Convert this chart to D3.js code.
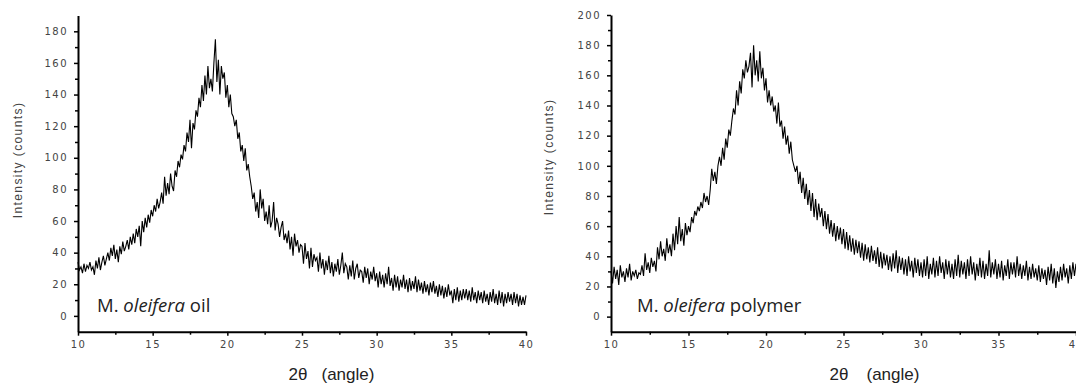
<!DOCTYPE html>
<html>
<head>
<meta charset="utf-8">
<script src="https://cdn.jsdelivr.net/npm/d3@7"></script>
<style>
	body { margin: 0; background: #fff; }
	svg { display: block; }
	.tick text { font-family: "DejaVu Sans", sans-serif; font-size: 10px; fill: #444; letter-spacing: 1.5px; }
	.domain { stroke: #000; stroke-width: 2; }
	.tick line { stroke: #000; stroke-width: 1.5; }
	.y-title { font-family: "Liberation Sans", Arial, sans-serif; font-size: 12px; fill: #444; letter-spacing: 1.4px; }
	.x-title { font-family: "Liberation Sans", Arial, sans-serif; font-size: 17px; fill: #222; }
	.sample { font-family: "Open Sans", sans-serif; font-size: 18.5px; fill: #222; }
</style>
</head>
<body>
<div id="chart"></div>
<script>
// scan grid: 2theta from 10 to 40 deg in 0.1 deg steps
const scanStart = 10;
const scanStep = 0.1;

// M. oleifera oil, counts (one row per degree)
const oilCounts = [
	34, 29, 31, 27, 33, 28, 32, 30, 34, 29,
	31, 26, 35, 30, 37, 29, 34, 38, 32, 36,
	40, 35, 43, 38, 45, 36, 42, 34, 44, 39,
	47, 41, 44, 48, 42, 50, 45, 52, 46, 55,
	50, 57, 44, 60, 53, 62, 56, 64, 59, 67,
	63, 70, 66, 74, 68, 72, 78, 71, 88, 76,
	84, 77, 90, 82, 79, 92, 88, 98, 94, 102,
	99, 108, 104, 116, 110, 124, 106, 122, 118, 130,
	126, 138, 132, 146, 136, 152, 140, 158, 144, 150,
	142, 160, 175, 148, 162, 140, 158, 150, 154, 138,
	146, 132, 140, 128, 126, 120, 124, 112, 116, 104,
	108, 98, 106, 92, 96, 88, 82, 74, 78, 66,
	72, 62, 80, 68, 74, 60, 66, 58, 70, 56,
	60, 72, 54, 62, 58, 50, 56, 60, 48, 52,
	46, 54, 42, 50, 38, 52, 44, 48, 40, 45,
	44, 33, 46, 36, 41, 30, 43, 31, 39, 35,
	37, 28, 40, 30, 36, 26, 35, 29, 38, 27,
	34, 25, 33, 28, 36, 26, 32, 40, 27, 33,
	31, 23, 32, 25, 35, 23, 30, 33, 24, 29,
	28, 21, 31, 24, 30, 20, 28, 23, 31, 22,
	27, 18, 28, 20, 26, 18, 27, 20, 31, 19,
	24, 16, 26, 18, 25, 16, 23, 18, 26, 17,
	23, 15, 24, 16, 22, 17, 25, 15, 23, 16,
	21, 14, 22, 15, 20, 13, 21, 15, 22, 14,
	19, 12, 20, 13, 19, 11, 18, 12, 20, 13,
	16, 8, 17, 10, 18, 9, 16, 10, 17, 11,
	17, 10, 16, 9, 18, 10, 15, 8, 16, 10,
	15, 8, 16, 9, 14, 7, 15, 9, 17, 8,
	14, 7, 16, 8, 15, 6, 14, 8, 15, 9,
	14, 7, 15, 8, 14, 6, 13, 7, 12, 7,
	13
];

// M. oleifera polymer, counts
const polymerCounts = [
	30, 22, 33, 25, 31, 21, 34, 26, 30, 23,
	32, 26, 35, 24, 30, 27, 31, 25, 29, 28,
	34, 27, 42, 31, 36, 29, 39, 33, 37, 30,
	46, 38, 50, 40, 45, 37, 52, 42, 48, 40,
	55, 44, 60, 48, 66, 50, 58, 47, 62, 54,
	60, 56, 66, 62, 70, 67, 73, 70, 76, 72,
	82, 76, 80, 74, 84, 98, 90, 96, 88, 100,
	106, 100, 112, 104, 118, 112, 124, 120, 130, 138,
	134, 150, 140, 156, 148, 164, 158, 170, 162, 166,
	175, 152, 180, 160, 170, 156, 176, 158, 165, 150,
	158, 142, 150, 140, 146, 136, 140, 128, 142, 126,
	130, 118, 126, 114, 120, 108, 116, 104, 100, 96,
	100, 88, 96, 82, 92, 78, 88, 74, 84, 70,
	82, 66, 78, 64, 75, 66, 72, 60, 70, 58,
	68, 55, 64, 53, 62, 50, 60, 51, 59, 48,
	58, 45, 56, 44, 54, 43, 52, 41, 51, 42,
	50, 39, 49, 37, 48, 38, 46, 36, 47, 37,
	44, 35, 46, 33, 43, 32, 42, 34, 41, 31,
	40, 30, 42, 32, 44, 29, 40, 31, 39, 28,
	38, 27, 40, 30, 37, 26, 39, 29, 38, 27,
	36, 26, 38, 27, 40, 25, 35, 28, 39, 26,
	37, 27, 40, 29, 36, 25, 38, 28, 37, 26,
	35, 25, 38, 27, 41, 26, 37, 28, 36, 25,
	38, 27, 40, 28, 36, 24, 35, 27, 39, 26,
	37, 25, 35, 27, 44, 26, 36, 28, 38, 25,
	35, 26, 37, 24, 34, 27, 38, 25, 36, 28,
	36, 26, 40, 27, 35, 25, 34, 27, 37, 24,
	33, 25, 35, 26, 32, 24, 34, 23, 32, 25,
	31, 21, 33, 24, 35, 22, 32, 19, 30, 23,
	33, 24, 35, 26, 32, 22, 34, 25, 36, 27,
	35
];

const xTicks = [10, 15, 20, 25, 30, 35, 40];
const xMinorTicks = [12.5, 17.5, 22.5, 27.5, 32.5, 37.5];
const oilYTicks = [0, 20, 40, 60, 80, 100, 120, 140, 160, 180];
const oilYMinorTicks = [10, 30, 50, 70, 90, 110, 130, 150, 170];
const polymerYTicks = [0, 20, 40, 60, 80, 100, 120, 140, 160, 180, 200];
const polymerYMinorTicks = [10, 30, 50, 70, 90, 110, 130, 150, 170, 190];

const svg = d3.select("#chart")
	.append("svg")
	.attr("width", 1076)
	.attr("height", 385);

function drawPanel(p) {
	const x = d3.scaleLinear().domain([10, 40]).range([p.left, p.right]);
	const y = d3.scaleLinear().domain(p.yDomain).range([p.bottom, p.top]);
	const g = svg.append("g");

	// minor ticks first, then major axes on top
	g.append("g")
		.attr("transform", "translate(0," + p.bottom + ")")
		.call(d3.axisBottom(x).tickValues(xMinorTicks).tickSize(3).tickFormat(""))
		.call(s => s.select(".domain").remove());
	g.append("g")
		.attr("transform", "translate(" + p.left + ",0)")
		.call(d3.axisLeft(y).tickValues(p.yMinor).tickSize(3).tickFormat(""))
		.call(s => s.select(".domain").remove());

	g.append("g")
		.attr("transform", "translate(0," + p.bottom + ")")
		.call(d3.axisBottom(x).tickValues(xTicks).tickSize(4).tickSizeOuter(0).tickPadding(5));
	g.append("g")
		.attr("transform", "translate(" + p.left + ",0)")
		.call(d3.axisLeft(y).tickValues(p.yTicks).tickSize(4).tickSizeOuter(0).tickPadding(6));

	const points = p.counts.map((c, i) => [scanStart + i * scanStep, c]);
	g.append("path")
		.datum(points)
		.attr("d", d3.line().x(d => x(d[0])).y(d => y(d[1])))
		.attr("fill", "none")
		.attr("stroke", "#000")
		.attr("stroke-width", 1.1);

	// Y title
	g.append("text")
		.attr("class", "y-title")
		.attr("transform", "translate(" + (p.left - p.yTitleOffset) + "," + p.yTitleY + ") rotate(-90)")
		.attr("text-anchor", "middle")
		.attr("dy", "0.35em")
		.text("Intensity (counts)");

	// X title
	const xt = g.append("text")
		.attr("class", "x-title")
		.attr("x", p.left + (p.right - p.left) * 0.47)
		.attr("y", 380);
	xt.append("tspan").text("2θ");
	xt.append("tspan").attr("dx", p.xTitleGap).text("(angle)");

	// sample annotation
	const ann = g.append("text")
		.attr("class", "sample")
		.attr("x", p.left + p.annOffset)
		.attr("y", 312);
	ann.append("tspan").text("M. ");
	ann.append("tspan").attr("font-style", "italic").text("oleifera");
	ann.append("tspan").text(" " + p.sample);
}

drawPanel({
	left: 78, right: 526, top: 15.5, bottom: 331.7,
	yDomain: [-10, 190], yTicks: oilYTicks, yMinor: oilYMinorTicks,
	counts: oilCounts, sample: "oil",
	yTitleOffset: 60, yTitleY: 160, xTitleGap: 14, annOffset: 19
});

drawPanel({
	left: 611, right: 1076, top: 15, bottom: 331.7,
	yDomain: [-10, 200], yTicks: polymerYTicks, yMinor: polymerYMinorTicks,
	counts: polymerCounts, sample: "polymer",
	yTitleOffset: 62, yTitleY: 157, xTitleGap: 18, annOffset: 26
});
</script>
</body>
</html>
